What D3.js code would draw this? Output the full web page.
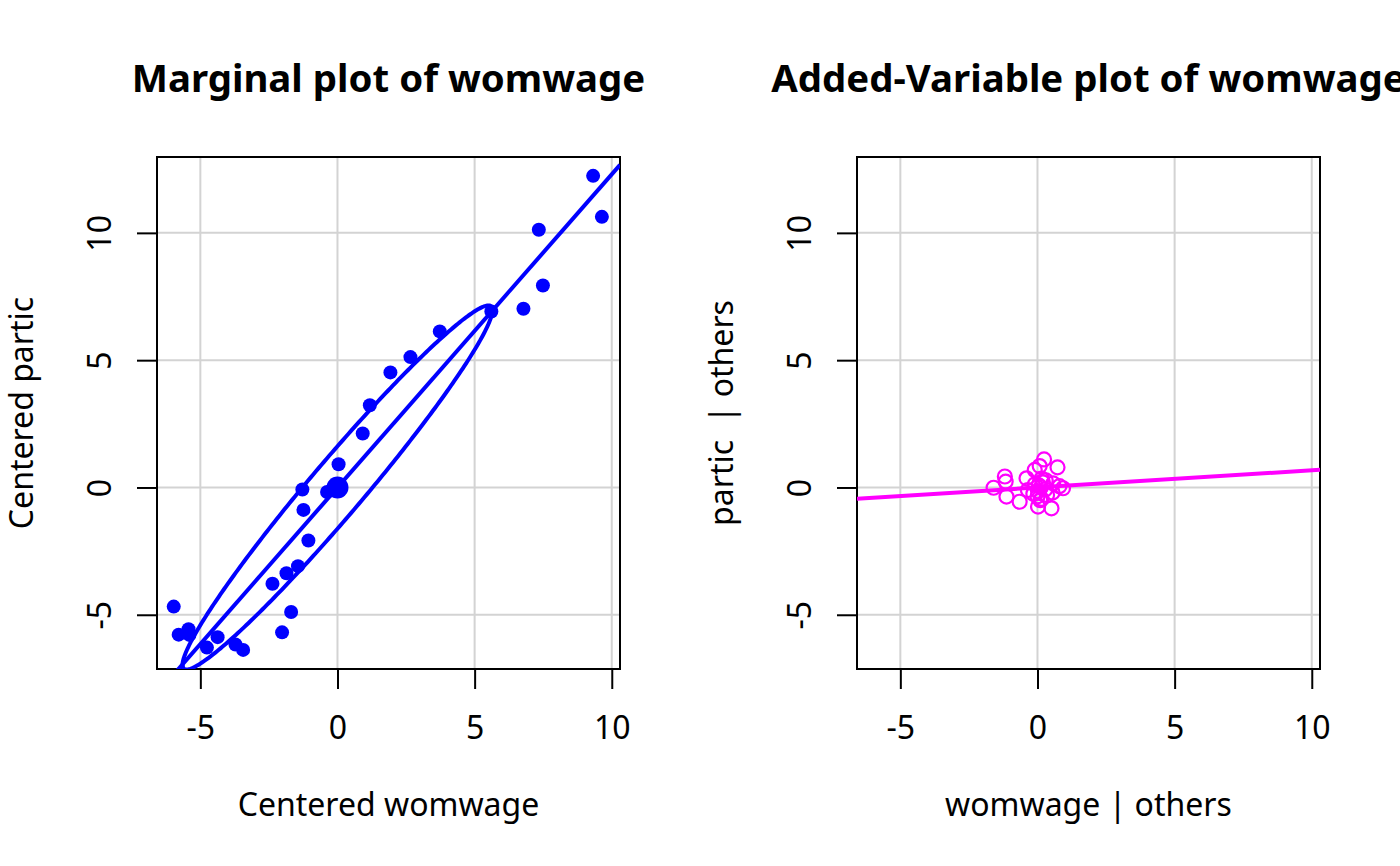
<!DOCTYPE html>
<html>
<head>
<meta charset="utf-8">
<script src="https://cdn.jsdelivr.net/npm/d3@7"></script>
<style>
  html, body { margin: 0; padding: 0; background: #fff; }
  text { font-family: "Noto Sans", "Open Sans", sans-serif; fill: #000; }
</style>
</head>
<body>
<svg id="chart" width="1400" height="866"></svg>
<script>
// ---- Data ----
// Marginal plot: centered womwage (x) vs centered partic (y)
const marginalX = [9.32, 9.64, 7.34, 7.49, 6.78, 5.61, 3.73, 2.66, 1.93, 1.18,
                   0.92, 0.04, -0.38, -1.28, -1.24, -1.06, -1.44, -1.86, -2.37, -1.69,
                   -2.02, -5.97, -5.79, -5.43, -5.40, -4.37, -4.76, -3.72, -3.44, -0.20];
const marginalY = [12.24, 10.63, 10.12, 7.93, 7.02, 6.91, 6.13, 5.12, 4.52, 3.23,
                   2.12, 0.91, -0.18, -0.08, -0.88, -2.08, -3.09, -3.37, -3.78, -4.89,
                   -5.69, -4.68, -5.78, -5.57, -5.79, -5.88, -6.29, -6.17, -6.38, -0.10];
const centroid = [0, 0];
const marginalSlope = 1.23;
// data ellipse (level 0.5) parameters
const ellipseSX = 5.65, ellipseSY = 7.15, ellipseRho = 0.974;

// Added-variable plot: womwage | others (x) vs partic | others (y)
const avX = [0.24, 0.73, -1.19, -1.16, -1.60, -1.13, -0.65, 0.02, 0.51, 0.93,
             -0.10, -0.40, 0.08, 0.57, 0.80, -0.35, 0.00, 0.15, 0.35, 0.55,
             0.05, 0.12, -0.10, 0.20, 0.28, 0.02, 0.15, 0.30, -0.15, 0.10];
const avY = [1.10, 0.79, 0.43, 0.23, -0.01, -0.36, -0.56, -0.75, -0.82, -0.03,
             0.69, 0.36, 0.84, 0.16, 0.05, -0.10, -0.35, -0.45, -0.30, -0.20,
             0.08, 0.00, 0.12, 0.20, -0.08, -0.15, 0.35, 0.28, -0.25, -0.50];
const avSlope = 0.0674;

const xTicks = [-5, 0, 5, 10];
const yTicks = [-5, 0, 5, 10];
const xDomain = [-6.58, 10.30];
const yDomain = [-7.13, 12.98];

const panels = [
  { left: 157, right: 620, title: "Marginal plot of womwage",
    xlab: "Centered womwage", ylab: "Centered partic", kind: "marginal" },
  { left: 857, right: 1320, title: "Added-Variable plot of womwage",
    xlab: "womwage | others", ylab: "partic  | others", kind: "av" }
];
const plotTop = 157, plotBottom = 669;
const fmt = d => d < 0 ? "-" + Math.abs(d) : String(d);
const baseFont = 32;

const svg = d3.select("#chart");

panels.forEach((p, i) => {
  const x = d3.scaleLinear().domain(xDomain).range([p.left, p.right]);
  const y = d3.scaleLinear().domain(yDomain).range([plotBottom, plotTop]);
  const g = svg.append("g");
  const clipId = "clip" + i;
  svg.append("clipPath").attr("id", clipId)
    .append("rect").attr("x", p.left).attr("y", plotTop)
    .attr("width", p.right - p.left).attr("height", plotBottom - plotTop);

  // grid
  g.append("g").selectAll("line").data(xTicks).join("line")
    .attr("x1", d => x(d)).attr("x2", d => x(d))
    .attr("y1", plotTop).attr("y2", plotBottom)
    .attr("stroke", "#d3d3d3").attr("stroke-width", 2);
  g.append("g").selectAll("line").data(yTicks).join("line")
    .attr("y1", d => y(d)).attr("y2", d => y(d))
    .attr("x1", p.left).attr("x2", p.right)
    .attr("stroke", "#d3d3d3").attr("stroke-width", 2);

  // axes
  const xAxis = d3.axisBottom(x).tickValues(xTicks).tickSize(20).tickFormat(fmt);
  const gx = g.append("g").attr("transform", `translate(0,${plotBottom})`).call(xAxis);
  gx.select(".domain").remove();
  gx.selectAll(".tick line").attr("stroke", "#000").attr("stroke-width", 2);
  gx.selectAll(".tick text").attr("font-size", baseFont).attr("dy", null)
    .attr("y", 70).attr("fill", "#000").style("font-family", '"Noto Sans"');

  const yAxis = d3.axisLeft(y).tickValues(yTicks).tickSize(20).tickFormat(fmt);
  const gy = g.append("g").attr("transform", `translate(${p.left},0)`).call(yAxis);
  gy.select(".domain").remove();
  gy.selectAll(".tick line").attr("stroke", "#000").attr("stroke-width", 2);
  gy.selectAll(".tick text").attr("font-size", baseFont).attr("x", null).attr("dy", null)
    .attr("text-anchor", "middle")
    .attr("transform", "translate(-46,0) rotate(-90)")
    .attr("fill", "#000").style("font-family", '"Noto Sans"');

  // box
  g.append("rect").attr("x", p.left).attr("y", plotTop)
    .attr("width", p.right - p.left).attr("height", plotBottom - plotTop)
    .attr("fill", "none").attr("stroke", "#000").attr("stroke-width", 2);

  const plot = g.append("g").attr("clip-path", `url(#${clipId})`);

  if (p.kind === "marginal") {
    plot.append("line")
      .attr("x1", x(xDomain[0])).attr("y1", y(marginalSlope * xDomain[0]))
      .attr("x2", x(xDomain[1])).attr("y2", y(marginalSlope * xDomain[1]))
      .attr("stroke", "#0000ff").attr("stroke-width", 4);
    const ts = d3.range(0, 361).map(a => a * Math.PI / 180);
    const s = Math.sqrt(1 - ellipseRho * ellipseRho);
    const line = d3.line()
      .x(t => x(centroid[0] + ellipseSX * Math.cos(t)))
      .y(t => y(centroid[1] + ellipseSY * (ellipseRho * Math.cos(t) + s * Math.sin(t))));
    plot.append("path").datum(ts).attr("d", line)
      .attr("fill", "none").attr("stroke", "#0000ff").attr("stroke-width", 4);
    plot.append("g").selectAll("circle").data(marginalX).join("circle")
      .attr("cx", d => x(d)).attr("cy", (d, j) => y(marginalY[j]))
      .attr("r", 7).attr("fill", "#0000ff");
    plot.append("circle").attr("cx", x(centroid[0])).attr("cy", y(centroid[1]))
      .attr("r", 11).attr("fill", "#0000ff");
  } else {
    plot.append("line")
      .attr("x1", x(xDomain[0])).attr("y1", y(avSlope * xDomain[0]))
      .attr("x2", x(xDomain[1])).attr("y2", y(avSlope * xDomain[1]))
      .attr("stroke", "#ff00ff").attr("stroke-width", 4);
    plot.append("g").selectAll("circle").data(avX).join("circle")
      .attr("cx", d => x(d)).attr("cy", (d, j) => y(avY[j]))
      .attr("r", 7).attr("fill", "none").attr("stroke", "#ff00ff").attr("stroke-width", 2.2);
  }

  const cx = (p.left + p.right) / 2;
  svg.append("text").attr("x", cx).attr("y", 92).attr("text-anchor", "middle")
    .attr("font-size", baseFont * 1.2).attr("font-weight", "bold").text(p.title);
  svg.append("text").attr("x", cx).attr("y", 816).attr("text-anchor", "middle")
    .attr("font-size", baseFont).text(p.xlab);
  svg.append("text").attr("transform", `translate(${p.left - 124},${(plotTop + plotBottom) / 2}) rotate(-90)`)
    .attr("text-anchor", "middle").attr("font-size", baseFont)
    .style("white-space", "pre").attr("xml:space", "preserve").text(p.ylab);
});
</script>
</body>
</html>
